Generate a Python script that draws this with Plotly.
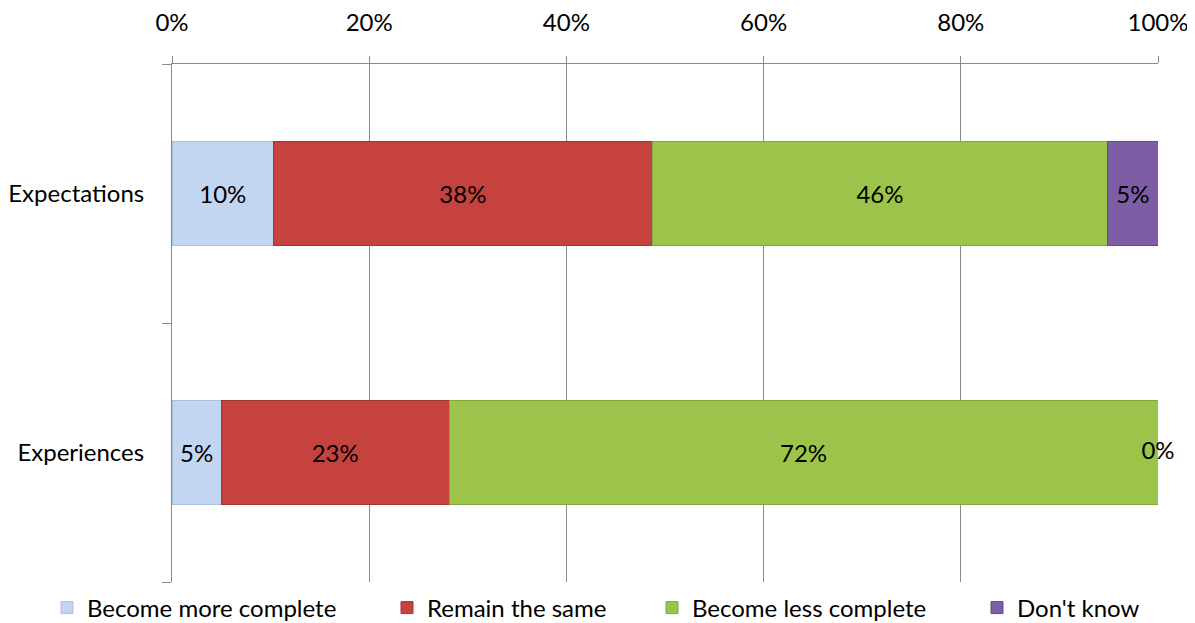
import plotly.graph_objects as go

categories = ["Experiences", "Expectations"]
series_names = ["Become more complete", "Remain the same", "Become less complete", "Don't know"]

# share of respondents (%) per category, same order as `categories`
more_complete = [5.0, 10.3]
remain_same = [23.1, 38.4]
less_complete = [71.9, 46.2]
dont_know = [0.0, 5.1]

series_values = [more_complete, remain_same, less_complete, dont_know]
colors = ["#c3d6f1", "#c6423f", "#9cc44a", "#7d5ea5"]
edges = ["#a9bfdf", "#a33532", "#84a83c", "#65498a"]

x_ticks = [0, 20, 40, 60, 80, 100]
x_labels = [f"{t}%" for t in x_ticks]

FONT = "Lato, 'Open Sans', sans-serif"
FSIZE = 24
GRID = "#8a8a8a"
PAGE_PAD = 8  # default body margin of the html page
W, H = 1195 - PAGE_PAD, 623 - PAGE_PAD

# one small legend per series so each entry can sit where the original has it
legend_keys = ["legend", "legend2", "legend3", "legend4"]
legend_left = [63, 403, 668, 993]  # page x of each legend swatch

fig = go.Figure()
for name, vals, col, edge, lg in zip(series_names, series_values, colors, edges, legend_keys):
    fig.add_trace(
        go.Bar(
            y=categories,
            x=vals,
            name=name,
            legend=lg,
            orientation="h",
            width=0.4,
            marker=dict(color=col, line=dict(color=edge, width=1)),
            text=[f"{v:.0f}%" for v in vals],
            textposition="inside",
            insidetextanchor="middle",
            textfont=dict(color="black", size=FSIZE, family=FONT),
            cliponaxis=False,
            hoverinfo="skip",
        )
    )

# zero-width segments still get their label, centred on where the segment sits
zero_x, zero_y, zero_t = [], [], []
for i, cat in enumerate(categories):
    running = 0.0
    for vals in series_values:
        if vals[i] == 0:
            zero_x.append(running)
            zero_y.append(cat)
            zero_t.append(f"{vals[i]:.0f}%")
        running += vals[i]

fig.add_trace(
    go.Scatter(
        x=zero_x,
        y=zero_y,
        text=zero_t,
        mode="text",
        textposition="middle center",
        textfont=dict(color="black", size=FSIZE, family=FONT),
        showlegend=False,
        cliponaxis=False,
        hoverinfo="skip",
    )
)

fig.update_layout(
    barmode="stack",
    width=W,
    height=H,
    plot_bgcolor="white",
    paper_bgcolor="white",
    font=dict(family=FONT, size=FSIZE, color="black"),
    margin=dict(l=172 - PAGE_PAD, r=37, t=64 - PAGE_PAD, b=41),
    uniformtext=dict(minsize=FSIZE, mode="show"),
)

for lg, left in zip(legend_keys, legend_left):
    fig.update_layout(
        {
            lg: dict(
                orientation="h",
                xref="container",
                x=(left - PAGE_PAD - 16) / W,
                xanchor="left",
                yref="container",
                y=1 - (608 - PAGE_PAD) / H,
                yanchor="middle",
                font=dict(size=FSIZE, family=FONT),
                itemwidth=30,
                bgcolor="rgba(0,0,0,0)",
            )
        }
    )

fig.update_xaxes(
    side="top",
    range=[0, 100],
    tickvals=x_ticks,
    ticktext=x_labels,
    showgrid=True,
    gridcolor=GRID,
    gridwidth=1,
    showline=True,
    linecolor=GRID,
    linewidth=1,
    ticks="outside",
    ticklen=7,
    tickcolor=GRID,
    ticklabelstandoff=15,
    zeroline=False,
    automargin=False,
    fixedrange=True,
)

fig.update_yaxes(
    type="category",
    categoryorder="array",
    categoryarray=categories,
    range=[-0.5, 1.5],
    tickson="boundaries",
    showgrid=False,
    showline=True,
    linecolor=GRID,
    linewidth=1,
    ticks="outside",
    ticklen=9,
    tickcolor=GRID,
    ticklabelstandoff=22,
    automargin=False,
    fixedrange=True,
)

fig.write_html("out.html")
